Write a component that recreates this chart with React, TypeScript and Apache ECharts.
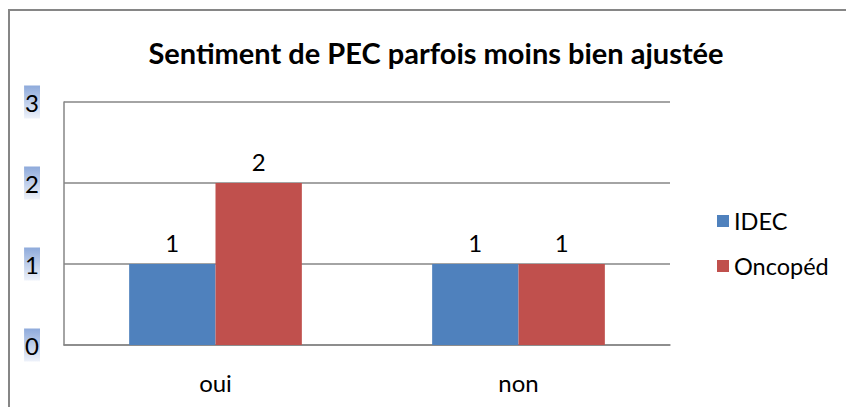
import React, { useEffect, useRef } from "react";
import * as echarts from "echarts";

const categories = ["oui", "non"];
const seriesNames = ["IDEC", "Oncopéd"];
const idecValues = [1, 1];
const oncopedValues = [2, 1];
const yTicks = [0, 1, 2, 3];

const FONT = "Lato, 'Open Sans', sans-serif";

export default function App() {
  const ref = useRef<HTMLDivElement>(null);
  useEffect(() => {
    if (!ref.current) return;
    const chart = echarts.init(ref.current, undefined, { renderer: "svg" });
    const labelBg = new echarts.graphic.LinearGradient(0, 0, 0, 1, [
      { offset: 0, color: "#8eaadb" },
      { offset: 1, color: "#eef2fa" },
    ]);
    chart.setOption({
      animation: false,
      backgroundColor: "#ffffff",
      textStyle: { fontFamily: FONT },
      title: {
        text: "Sentiment de PEC parfois moins bien ajustée",
        left: 431,
        textAlign: "center",
        top: 33,
        textStyle: { fontFamily: FONT, fontWeight: "bold", fontSize: 29, color: "#000" },
      },
      graphic: [
        {
          type: "rect",
          shape: { x: 9, y: 10, width: 900, height: 500 },
          style: { fill: "none", stroke: "#868686", lineWidth: 2 },
          silent: true,
          z: -1,
        },
      ],
      legend: {
        orient: "vertical",
        left: 712,
        top: 204,
        itemWidth: 12,
        itemHeight: 12,
        itemGap: 21,
        icon: "rect",
        data: seriesNames,
        textStyle: { fontFamily: FONT, fontSize: 23.5, color: "#000" },
      },
      grid: { left: 64, right: 176, top: 102, bottom: 62, containLabel: false },
      xAxis: {
        type: "category",
        data: categories,
        axisLine: { lineStyle: { color: "#868686", width: 1.5 } },
        axisTick: { show: false },
        axisLabel: { fontFamily: FONT, fontSize: 24, color: "#000", margin: 25 },
      },
      yAxis: {
        type: "value",
        min: yTicks[0],
        max: yTicks[yTicks.length - 1],
        interval: 1,
        axisLine: { show: true, lineStyle: { color: "#868686", width: 1.5 } },
        axisTick: { show: false },
        splitLine: { lineStyle: { color: "#868686", width: 1.5 } },
        axisLabel: {
          fontFamily: FONT,
          fontSize: 24,
          lineHeight: 27,
          color: "#000",
          margin: 24,
          backgroundColor: labelBg,
          padding: [4, 1, 2, 1],
        },
      },
      series: [
        {
          name: seriesNames[0],
          type: "bar",
          data: idecValues,
          itemStyle: { color: "#4f81bd" },
          barGap: "0%",
          barCategoryGap: "43%",
          label: { show: true, position: "top", distance: 10, fontFamily: FONT, fontSize: 24, color: "#000" },
        },
        {
          name: seriesNames[1],
          type: "bar",
          data: oncopedValues,
          itemStyle: { color: "#c0504d" },
          barGap: "0%",
          barCategoryGap: "43%",
          label: { show: true, position: "top", distance: 10, fontFamily: FONT, fontSize: 24, color: "#000" },
        },
      ],
    });
    return () => chart.dispose();
  }, []);
  return <div ref={ref} style={{ position: "fixed", left: 0, top: 0, width: 846, height: 407 }} />;
}
